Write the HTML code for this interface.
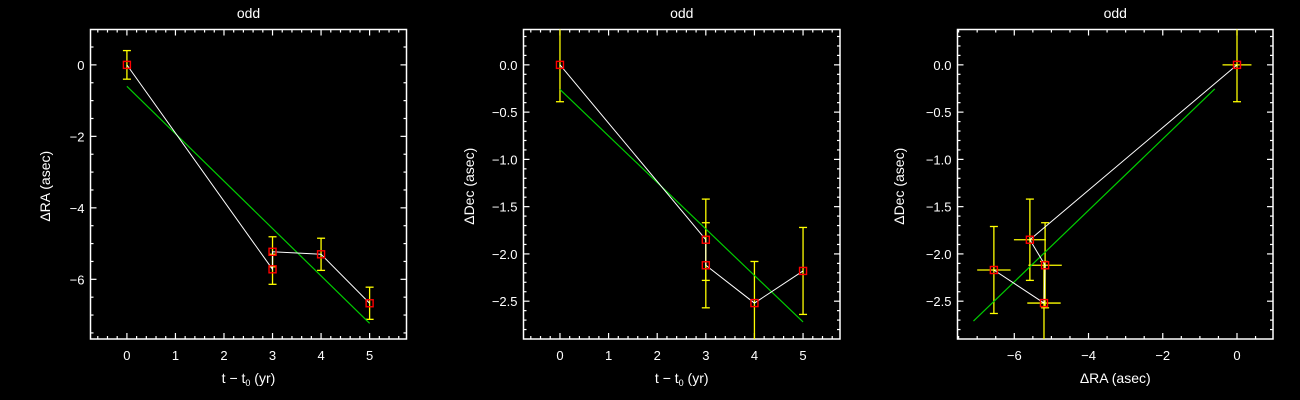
<!DOCTYPE html>
<html><head><meta charset="utf-8"><style>
html,body{margin:0;padding:0;background:#000;}
svg{display:block;font-family:"Liberation Sans",sans-serif;}
</style></head><body>
<svg id="fig" width="1300" height="400" viewBox="0 0 1300 400" xmlns="http://www.w3.org/2000/svg">
<rect x="0" y="0" width="1300" height="400" fill="#000"/>
</svg>
<script>
// Panel 1: delta RA vs time
const p1Time = [0, 3, 3, 4, 5];
const p1RA = [0, -5.72, -5.23, -5.3, -6.67];
const p1RAErr = [0.4, 0.42, 0.42, 0.45, 0.45];
const p1FitX = [0, 5];
const p1FitY = [-0.6, -7.23];
const p1XTicks = [0, 1, 2, 3, 4, 5];
const p1YTicks = [0, -2, -4, -6];
// Panel 2: delta Dec vs time
const p2Time = [0, 3, 3, 4, 5];
const p2Dec = [0, -1.85, -2.12, -2.52, -2.18];
const p2DecErr = [0.39, 0.43, 0.45, 0.44, 0.46];
const p2FitX = [0, 5];
const p2FitY = [-0.26, -2.72];
const p2XTicks = [0, 1, 2, 3, 4, 5];
const p2YTicks = [0.0, -0.5, -1.0, -1.5, -2.0, -2.5];
// Panel 3: delta Dec vs delta RA
const p3RA = [0, -5.58, -5.17, -5.2, -6.55];
const p3Dec = [0, -1.85, -2.12, -2.52, -2.17];
const p3RAErr = [0.39, 0.43, 0.45, 0.45, 0.45];
const p3DecErr = [0.39, 0.43, 0.45, 0.44, 0.46];
const p3FitX = [-7.1, -0.6];
const p3FitY = [-2.71, -0.255];
const p3XTicks = [-6, -4, -2, 0];
const p3YTicks = [0.0, -0.5, -1.0, -1.5, -2.0, -2.5];

const NS = "http://www.w3.org/2000/svg";
const svg = document.getElementById('fig');
function mk(tag, attrs, parent){
  const e = document.createElementNS(NS, tag);
  for (const k in attrs) e.setAttribute(k, attrs[k]);
  (parent||svg).appendChild(e);
  return e;
}
function fmt(v, dec){ const s = v.toFixed(dec); return s.replace('-', '\u2212'); }

function panel(cfg){
  const g = mk('g', {});
  
  
  const {x0,x1,y0,y1,xmin,xmax,ymin,ymax} = cfg;
  const sx = v => x0 + (v - xmin) / (xmax - xmin) * (x1 - x0);
  const sy = v => y1 - (v - ymin) / (ymax - ymin) * (y1 - y0);
  const clip = 'clip-' + cfg.name;
  const cp = mk('clipPath', {id: clip}, g);
  mk('rect', {x: x0, y: y0, width: x1 - x0, height: y1 - y0}, cp);
  // frame
  const fr = mk('rect', {x: x0, y: y0, width: x1 - x0, height: y1 - y0, fill: 'none', stroke: '#fff', 'stroke-width': 1.5}, g);
  
  
  // ticks
  const tg = mk('g', {stroke: '#fff', 'stroke-width': 1.2}, g);
  
  
  const eps = 1e-6;
  for (let v = Math.ceil(xmin / cfg.xminor) * cfg.xminor; v <= xmax + eps; v += cfg.xminor) {
    const major = Math.abs(v / cfg.xmajor - Math.round(v / cfg.xmajor)) < 1e-4;
    const L = major ? 6 : 3, X = sx(v);
    mk('line', {x1: X, y1: y1, x2: X, y2: y1 - L}, tg);
    mk('line', {x1: X, y1: y0, x2: X, y2: y0 + L}, tg);
  }
  for (let v = Math.ceil(ymin / cfg.yminor) * cfg.yminor; v <= ymax + eps; v += cfg.yminor) {
    const major = Math.abs(v / cfg.ymajor - Math.round(v / cfg.ymajor)) < 1e-4;
    const L = major ? 6 : 3, Y = sy(v);
    mk('line', {x1: x0, y1: Y, x2: x0 + L, y2: Y}, tg);
    mk('line', {x1: x1, y1: Y, x2: x1 - L, y2: Y}, tg);
  }
  // tick labels
  cfg.xticks.forEach(v => {
    const t = mk('text', {x: sx(v), y: y1 + 21, fill: '#fff', 'font-size': 13, 'text-anchor': 'middle'}, g);
    
    
    t.textContent = fmt(v, cfg.xdec);
  });
  cfg.yticks.forEach(v => {
    const t = mk('text', {x: x0 - 6, y: sy(v) + 5, fill: '#fff', 'font-size': 13, 'text-anchor': 'end'}, g);
    
    
    t.textContent = fmt(v, cfg.ydec);
  });
  // titles
  const tt = mk('text', {x: (x0 + x1) / 2, y: 18, fill: '#fff', 'font-size': 14, 'text-anchor': 'middle'}, g);
  
  
  tt.textContent = 'odd';
  const xt = mk('text', {x: (x0 + x1) / 2, y: 383, fill: '#fff', 'font-size': 14, 'text-anchor': 'middle'}, g);
  
  
  xt.innerHTML = cfg.xtitle;
  const yt = mk('text', {x: cfg.ytx, y: (y0 + y1) / 2 + 2, fill: '#fff', 'font-size': 14, 'text-anchor': 'middle', transform: `rotate(-90 ${cfg.ytx} ${(y0 + y1) / 2 + 2})`}, g);
  
  
  yt.textContent = cfg.ytitle;
  // data group (clipped)
  const dg = mk('g', {'clip-path': `url(#${clip})`}, g);
  // error bars
  const eg = mk('g', {stroke: '#ff0', 'stroke-width': 1.3}, dg);
  
  
  cfg.xs.forEach((xv, i) => {
    const X = sx(xv), Y = sy(cfg.ys[i]);
    if (cfg.yerr) {
      const a = sy(cfg.ys[i] + cfg.yerr[i]), b = sy(cfg.ys[i] - cfg.yerr[i]);
      mk('line', {x1: X, y1: a, x2: X, y2: b}, eg);
      mk('line', {x1: X - 4, y1: a, x2: X + 4, y2: a}, eg);
      mk('line', {x1: X - 4, y1: b, x2: X + 4, y2: b}, eg);
    }
    if (cfg.xerr) {
      const a = sx(xv - cfg.xerr[i]), b = sx(xv + cfg.xerr[i]);
      mk('line', {x1: a, y1: Y, x2: b, y2: Y}, eg);
    }
  });
  // fit line
  const fit = mk('line', {x1: sx(cfg.fx[0]), y1: sy(cfg.fy[0]), x2: sx(cfg.fx[1]), y2: sy(cfg.fy[1]), stroke: '#0c0', 'stroke-width': 1.2}, dg);
  
  
  // connecting line
  const pl = mk('polyline', {points: cfg.xs.map((xv, i) => sx(xv) + ',' + sy(cfg.ys[i])).join(' '), fill: 'none', stroke: '#fff', 'stroke-width': 1}, dg);
  
  
  // markers
  cfg.xs.forEach((xv, i) => {
    const m = mk('rect', {x: sx(xv) - 3.5, y: sy(cfg.ys[i]) - 3.5, width: 7, height: 7, fill: 'none', stroke: '#f00', 'stroke-width': 1.4}, dg);
    
    
  });
}

const tsub = 't \u2212 t<tspan font-size="9" dy="3">0</tspan><tspan dy="-3"> (yr)</tspan>';
panel({name: 'panel-ra-vs-time', x0: 90.5, x1: 406.5, y0: 29.5, y1: 339, xmin: -0.75, xmax: 5.76, ymin: -7.67, ymax: 0.99,
  xminor: 0.2, xmajor: 1, yminor: 0.5, ymajor: 2, xticks: p1XTicks, yticks: p1YTicks, xdec: 0, ydec: 0,
  xs: p1Time, ys: p1RA, yerr: p1RAErr, fx: p1FitX, fy: p1FitY, xtitle: tsub, ytitle: '\u0394RA (asec)', ytx: 50});
panel({name: 'panel-dec-vs-time', x0: 523.5, x1: 840, y0: 29.5, y1: 339, xmin: -0.75, xmax: 5.76, ymin: -2.9, ymax: 0.374,
  xminor: 0.2, xmajor: 1, yminor: 0.1, ymajor: 0.5, xticks: p2XTicks, yticks: p2YTicks, xdec: 0, ydec: 1,
  xs: p2Time, ys: p2Dec, yerr: p2DecErr, fx: p2FitX, fy: p2FitY, xtitle: tsub, ytitle: '\u0394Dec (asec)', ytx: 474});
panel({name: 'panel-dec-vs-ra', x0: 957.5, x1: 1273, y0: 29.5, y1: 339, xmin: -7.53, xmax: 0.97, ymin: -2.9, ymax: 0.374,
  xminor: 0.5, xmajor: 2, yminor: 0.1, ymajor: 0.5, xticks: p3XTicks, yticks: p3YTicks, xdec: 0, ydec: 1,
  xs: p3RA, ys: p3Dec, yerr: p3DecErr, xerr: p3RAErr, fx: p3FitX, fy: p3FitY, xtitle: '\u0394RA (asec)', ytitle: '\u0394Dec (asec)', ytx: 904});
</script>
</body></html>
